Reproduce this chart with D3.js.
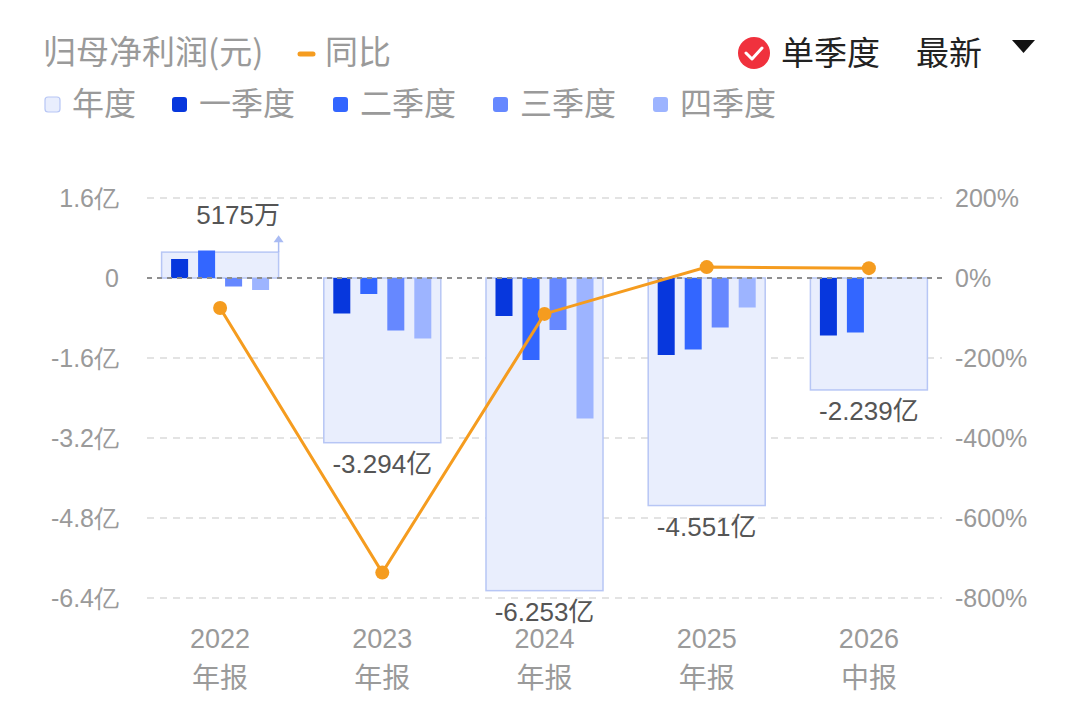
<!DOCTYPE html>
<html><head><meta charset="utf-8">
<script src="https://cdn.jsdelivr.net/npm/d3@7"></script>
<style>
html,body{margin:0;padding:0;background:#fff;}
svg{display:block;font-family:"Liberation Sans","Noto Sans CJK SC",sans-serif;}
.cjk{font-family:"Noto Sans CJK SC",sans-serif;}
</style></head>
<body>
<svg id="c" width="1080" height="717"></svg>
<script>
const categories = ["2022\n年报","2023\n年报","2024\n年报","2025\n年报","2026\n中报"];
const annual = [0.5175, -3.294, -6.253, -4.551, -2.239];           // 亿
const annualLabels = ["5175万","-3.294亿","-6.253亿","-4.551亿","-2.239亿"];
const q1 = [0.38, -0.71, -0.76, -1.54, -1.15];
const q2 = [0.55, -0.32, -1.64, -1.43, -1.09];
const q3 = [-0.17, -1.05, -1.04, -0.99, null];
const q4 = [-0.24, -1.21, -2.81, -0.59, null];
const yoy = [-75.0, -736.5, -89.8, 27.2, 24.6];                     // %
const leftTicks = [1.6, 0, -1.6, -3.2, -4.8, -6.4];
const leftTickLabels = ["1.6亿","0","-1.6亿","-3.2亿","-4.8亿","-6.4亿"];
const rightTicks = [200, 0, -200, -400, -600, -800];
const quarterNames = ["一季度","二季度","三季度","四季度"];
const quarterColors = ["#0737dd","#3366ff","#6688ff","#9db4ff"];

const svg = d3.select("#c");
const x = d3.scaleBand().domain(categories).range([139, 950]);
const y = d3.scaleLinear().domain([-6.4, 1.6]).range([598, 198]);
const y2 = d3.scaleLinear().domain([-800, 200]).range([598, 198]);
const xq = d3.scaleBand().domain([0,1,2,3]).range([-54, 54]).paddingInner(0.37).paddingOuter(0.185);

// grid
const gridG = svg.append("g");
leftTicks.forEach(t => {
  if (t === 0) return;
  gridG.append("line").attr("x1", 147).attr("x2", 942).attr("y1", y(t)).attr("y2", y(t))
    .attr("stroke", "#e3e3e3").attr("stroke-width", 2).attr("stroke-dasharray", "7,6");
});

// axes
const leftAxis = d3.axisLeft(y).tickValues(leftTicks).tickSize(0).tickPadding(0)
  .tickFormat((d,i) => leftTickLabels[i]);
const la = svg.append("g").attr("transform", "translate(119,0)").call(leftAxis);
la.select(".domain").remove();
la.selectAll("text").attr("fill", "#9a9a9a").style("font-size", "25px").attr("dy", "0.35em");

const rightAxis = d3.axisRight(y2).tickValues(rightTicks).tickSize(0).tickPadding(0)
  .tickFormat(d => d + "%");
const ra = svg.append("g").attr("transform", "translate(955,0)").call(rightAxis);
ra.select(".domain").remove();
ra.selectAll("text").attr("fill", "#9a9a9a").style("font-size", "25px").attr("dy", "0.35em");

// x labels
categories.forEach(c => {
  const parts = c.split("\n");
  const cx = x(c) + x.bandwidth()/2;
  svg.append("text").attr("x", cx).attr("y", 648).attr("text-anchor","middle")
    .attr("fill","#9a9a9a").style("font-size","27px").text(parts[0]);
  svg.append("text").attr("class","cjk").attr("x", cx).attr("y", 688).attr("text-anchor","middle")
    .attr("fill","#9a9a9a").style("font-size","28px").text(parts[1]);
});

// annual bars
const aw = 117;
svg.append("g").selectAll("rect").data(annual).join("rect")
  .attr("x", (d,i) => x(categories[i]) + x.bandwidth()/2 - aw/2)
  .attr("y", d => Math.min(y(d), y(0)))
  .attr("width", aw)
  .attr("height", d => Math.abs(y(d) - y(0)))
  .attr("fill", "#e9eefd").attr("stroke", "#b7c6f5").attr("stroke-width", 1.5);

// quarter bars
[q1,q2,q3,q4].forEach((arr, qi) => {
  svg.append("g").selectAll("rect").data(arr.map((v,i)=>({v,i})).filter(d => d.v !== null)).join("rect")
    .attr("x", d => x(categories[d.i]) + x.bandwidth()/2 + xq(qi))
    .attr("y", d => Math.min(y(d.v), y(0)))
    .attr("width", xq.bandwidth())
    .attr("height", d => Math.abs(y(d.v) - y(0)))
    .attr("fill", quarterColors[qi]);
});

// zero line over bars
svg.append("line").attr("x1", 147).attr("x2", 942).attr("y1", y(0)).attr("y2", y(0))
  .attr("stroke", "#8e8e8e").attr("stroke-width", 2).attr("stroke-dasharray", "5,5");

// annual labels
annual.forEach((v, i) => {
  const cx = x(categories[i]) + x.bandwidth()/2;
  if (v >= 0) {
    const ax = cx + aw/2;
    svg.append("line").attr("x1", ax).attr("x2", ax).attr("y1", y(v)).attr("y2", y(v) - 12)
      .attr("stroke", "#a9bbf3").attr("stroke-width", 1.5);
    svg.append("path").attr("d", `M${ax-5},${y(v)-10} L${ax+5},${y(v)-10} L${ax},${y(v)-17} Z`)
      .attr("fill", "#a9bbf3");
    svg.append("text").attr("x", cx + 18).attr("y", y(v) - 28).attr("text-anchor","middle")
      .attr("fill","#555").style("font-size","26px").text(annualLabels[i]);
  } else {
    svg.append("text").attr("x", cx).attr("y", y(v) + 30).attr("text-anchor","middle")
      .attr("fill","#555").style("font-size","26px").text(annualLabels[i]);
  }
});

// yoy line
const line = d3.line().x((d,i) => x(categories[i]) + x.bandwidth()/2).y(d => y2(d));
svg.append("path").datum(yoy).attr("d", line).attr("fill","none")
  .attr("stroke","#f59c1f").attr("stroke-width",3);
svg.append("g").selectAll("circle").data(yoy).join("circle")
  .attr("cx", (d,i) => x(categories[i]) + x.bandwidth()/2)
  .attr("cy", d => y2(d)).attr("r", 7).attr("fill","#f59c1f");

// legend row 1
svg.append("text").attr("class","cjk").attr("x", 43).attr("y", 64).attr("fill","#9a9a9a").style("font-size","33px").text("归母净利润(元)");
svg.append("line").attr("x1", 300).attr("x2", 313).attr("y1", 54).attr("y2", 54)
  .attr("stroke","#f59c1f").attr("stroke-width",5).attr("stroke-linecap","round");
svg.append("text").attr("class","cjk").attr("x", 325).attr("y", 64).attr("fill","#9a9a9a").style("font-size","33px").text("同比");

// legend row 2
const leg2 = [
  {name:"年度", sx:45, tx:72, fill:"#e9eefd", stroke:"#b7c6f5"},
  {name:quarterNames[0], sx:172, tx:199, fill:quarterColors[0]},
  {name:quarterNames[1], sx:333, tx:360, fill:quarterColors[1]},
  {name:quarterNames[2], sx:493, tx:520, fill:quarterColors[2]},
  {name:quarterNames[3], sx:653, tx:680, fill:quarterColors[3]},
];
leg2.forEach(l => {
  svg.append("rect").attr("x", l.sx).attr("y", 97).attr("width", 15).attr("height", 15).attr("rx", 3)
    .attr("fill", l.fill).attr("stroke", l.stroke || "none").attr("stroke-width", 1.2);
  svg.append("text").attr("class","cjk").attr("x", l.tx).attr("y", 115).attr("fill","#9a9a9a").style("font-size","32px").text(l.name);
});

// right controls
svg.append("circle").attr("cx", 754).attr("cy", 53).attr("r", 16).attr("fill","#f0313d");
svg.append("path").attr("d","M746,53 L752,59 L762,48").attr("fill","none").attr("stroke","#fff")
  .attr("stroke-width",3).attr("stroke-linecap","round").attr("stroke-linejoin","round");
svg.append("text").attr("class","cjk").attr("x", 781).attr("y", 65).attr("fill","#222").style("font-size","33px").text("单季度");
svg.append("text").attr("class","cjk").attr("x", 916).attr("y", 65).attr("fill","#222").style("font-size","33px").text("最新");
svg.append("path").attr("d","M1012,40 L1035,40 L1023.5,53 Z").attr("fill","#111");
</script>
</body></html>
